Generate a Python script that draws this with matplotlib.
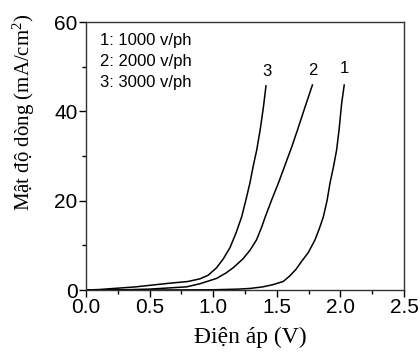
import matplotlib
matplotlib.use("Agg")
import matplotlib.pyplot as plt
from matplotlib.ticker import MultipleLocator

plt.rcParams["mathtext.fontset"] = "custom"
plt.rcParams["mathtext.rm"] = "Liberation Serif"
plt.rcParams["mathtext.it"] = "Liberation Serif:italic"

# Curve 1: 1000 v/ph
v1 = [0.0, 0.5, 1.0, 1.2, 1.29, 1.39, 1.47, 1.55, 1.60, 1.65, 1.70, 1.748, 1.80,
      1.835, 1.866, 1.895, 1.918, 1.945, 1.97, 1.99, 2.01, 2.03]
j1 = [0.0, 0.0, 0.05, 0.2, 0.35, 0.7, 1.2, 1.9, 3.1, 4.6, 6.6, 8.4, 11.2,
      13.8, 16.4, 20.0, 23.9, 27.5, 31.3, 36.0, 41.8, 45.9]
# Curve 2: 2000 v/ph
v2 = [0.0, 0.3, 0.5, 0.79, 0.896, 1.027, 1.1, 1.158, 1.235, 1.289, 1.34, 1.38,
      1.407, 1.46, 1.512, 1.56, 1.617, 1.66, 1.72, 1.78]
j2 = [0.0, 0.05, 0.2, 0.7, 1.4, 2.6, 3.8, 5.0, 7.0, 8.9, 11.2, 14.0,
      16.2, 20.2, 23.9, 27.6, 32.0, 35.6, 40.8, 45.9]
# Curve 3: 3000 v/ph
v3 = [0.0, 0.1, 0.39, 0.65, 0.8, 0.896, 0.96, 1.027, 1.08, 1.132, 1.18, 1.224,
      1.26, 1.289, 1.315, 1.342, 1.37, 1.395, 1.415]
j3 = [0.0, 0.1, 0.7, 1.5, 1.9, 2.5, 3.3, 5.0, 7.0, 9.5, 12.8, 16.4,
      20.5, 24.0, 27.8, 31.3, 36.0, 41.0, 45.7]

curve_labels = ["1", "2", "3"]
label_pos = [(2.03, 49.7), (1.78, 49.2), (1.42, 49.0)]
legend_lines = ["1: 1000 v/ph", "2: 2000 v/ph", "3: 3000 v/ph"]

xticks = [0.0, 0.5, 1.0, 1.5, 2.0, 2.5]
yticks = [0, 20, 40, 60]

fig = plt.figure(figsize=(4.2, 3.52), dpi=100)
ax = fig.add_axes([86/420, 1-290/352, (404-86)/420, (290-22)/352])

for v, j in [(v1, j1), (v2, j2), (v3, j3)]:
    ax.plot(v, j, color="black", lw=1.1, solid_joinstyle="round")

ax.set_xlim(0, 2.5)
ax.set_ylim(0, 60)
ax.set_xticks(xticks)
ax.set_xticklabels([f"{t:.1f}" for t in xticks])
ax.set_yticks(yticks)
ax.set_yticklabels([str(t) for t in yticks])
ax.xaxis.set_minor_locator(MultipleLocator(0.25))
ax.yaxis.set_minor_locator(MultipleLocator(10))
ax.tick_params(which="major", direction="out", length=5, width=1, labelsize=15,
               top=False, right=False, pad=1)
ax.tick_params(which="minor", direction="out", length=3, width=1, top=False, right=False)
for lab in ax.get_xticklabels() + ax.get_yticklabels():
    lab.set_family("Liberation Sans")
for s in ax.spines.values():
    s.set_color("#333333")
    s.set_linewidth(1)

for lab, (x, y) in zip(curve_labels, label_pos):
    ax.text(x, y, lab, ha="center", va="center", fontsize=12, family="Liberation Sans")

for i, t in enumerate(legend_lines):
    fig.text(100/420, 1 - (41 + i * 20.5)/352, t, fontsize=12,
             family="Liberation Sans", va="center", ha="left")

fig.text(250/420, 1 - 337/352, "Điện áp (V)", family="Liberation Serif",
         fontsize=17, ha="center", va="center")
fig.text(24/420, 1 - 112/352, "Mật độ dòng (mA/cm$^2$)", family="Liberation Serif",
         fontsize=15, ha="center", va="center", rotation=90)

fig.savefig("out.png", dpi=100)
